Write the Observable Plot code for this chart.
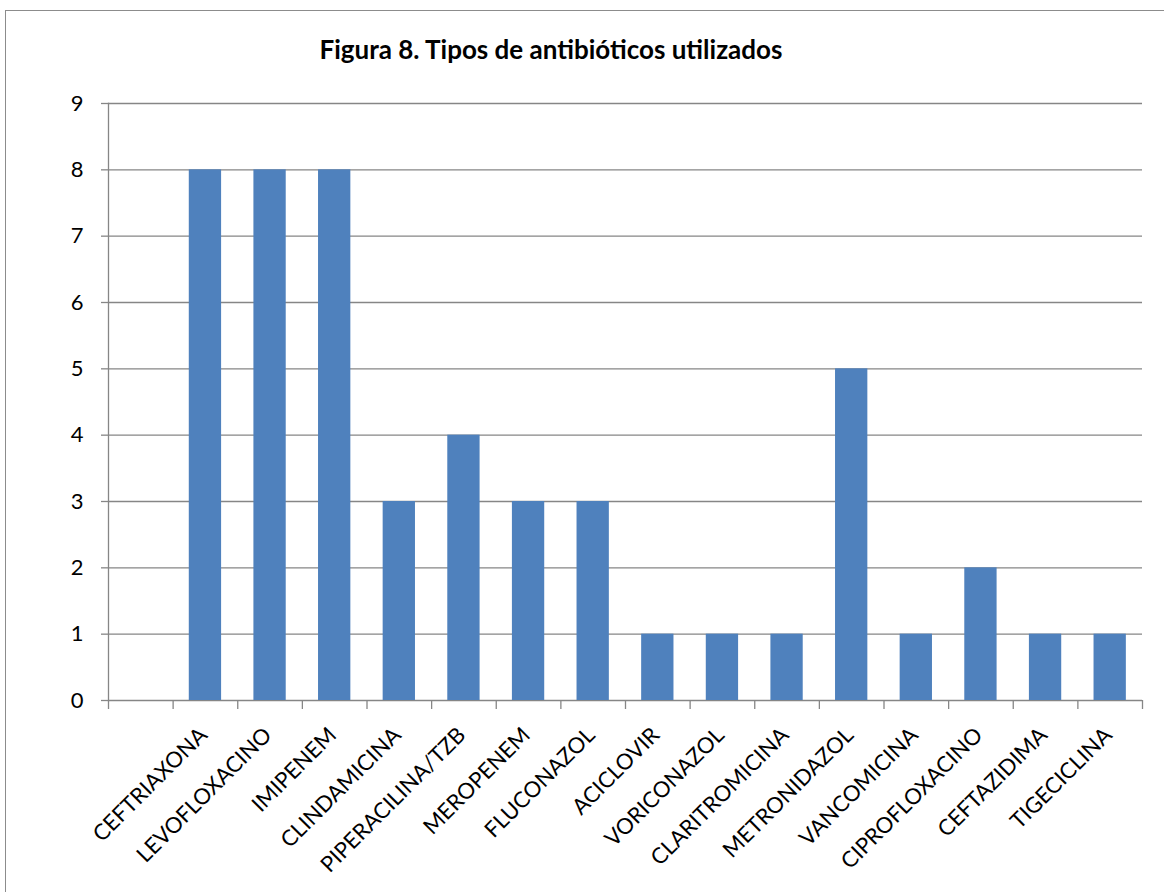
<!DOCTYPE html>
<html>
<head>
<meta charset="utf-8">
<script src="https://cdn.jsdelivr.net/npm/d3@7"></script>
<script src="https://cdn.jsdelivr.net/npm/@observablehq/plot@0.6"></script>
<style>
  body { margin: 0; background: #fff; font-family: Lato, sans-serif; }
  #chart { position: relative; width: 1164px; height: 892px; overflow: hidden; }
  #frame { position: absolute; left: 5px; top: 10px; width: 1300px; height: 1000px;
           border-left: 1.5px solid #8c8c8c; border-top: 1.5px solid #8c8c8c; }
  #title { position: absolute; left: 0; top: 36px; width: 1102px; text-align: center;
           font-weight: bold; font-size: 26px; line-height: 1; color: #000; }
  #plot { position: absolute; left: 0; top: 80px; }
</style>
</head>
<body>
<div id="chart">
  <div id="frame"></div>
  <div id="title">Figura 8. Tipos de antibióticos utilizados</div>
  <div id="plot"></div>
</div>
<script>
// Antibiotics used (counts); the first category slot is left blank.
const categories = ["", "CEFTRIAXONA", "LEVOFLOXACINO", "IMIPENEM", "CLINDAMICINA",
  "PIPERACILINA/TZB", "MEROPENEM", "FLUCONAZOL", "ACICLOVIR", "VORICONAZOL",
  "CLARITROMICINA", "METRONIDAZOL", "VANCOMICINA", "CIPROFLOXACINO", "CEFTAZIDIMA", "TIGECICLINA"];
const counts = [null, 8, 8, 8, 3, 4, 3, 3, 1, 1, 1, 5, 1, 2, 1, 1];
const yTicks = [0, 1, 2, 3, 4, 5, 6, 7, 8, 9];

const W = 1164, H = 812;
const mL = 108, mR = 22, mT = 23, mB = 192;
const step = (W - mL - mR) / categories.length;
const axisGray = "#868686";
const barBlue = "#4F81BD";

const rows = categories
  .map((name, i) => ({name, value: counts[i]}))
  .filter(d => d.value != null);

const chart = Plot.plot({
  width: W,
  height: H,
  marginLeft: mL,
  marginRight: mR,
  marginTop: mT,
  marginBottom: mB,
  style: {fontFamily: "Lato, sans-serif", fontSize: "22px", color: "#000", background: "transparent", overflow: "visible"},
  x: {type: "band", domain: categories, paddingInner: 0.5, paddingOuter: 0.25, round: false, label: null},
  y: {domain: [0, 9], ticks: yTicks, label: null},
  marks: [
    Plot.gridY(yTicks, {stroke: axisGray, strokeOpacity: 1, strokeWidth: 1.3}),
    Plot.frame({anchor: "left", stroke: axisGray, strokeWidth: 1.3}),
    Plot.barY(rows, {x: "name", y: "value", fill: barBlue}),
    Plot.axisY(yTicks, {tickSize: 7, tickPadding: 18, tickFormat: "d", stroke: axisGray, strokeWidth: 1.3, fontSize: 22, label: null}),
    // category separators below the baseline
    Plot.axisX(categories, {tickSize: 9, tickFormat: () => "", dx: -step / 2, stroke: axisGray, strokeWidth: 1.3, label: null}),
    Plot.axisX([categories[categories.length - 1]], {tickSize: 9, tickFormat: () => "", dx: step / 2, stroke: axisGray, strokeWidth: 1.3, label: null}),
    // rotated category names
    Plot.axisX(categories, {tickSize: 0, tickRotate: -45, tickPadding: 31, dx: -2, fontSize: 22, label: null})
  ]
});
document.getElementById("plot").appendChild(chart);
</script>
</body>
</html>
